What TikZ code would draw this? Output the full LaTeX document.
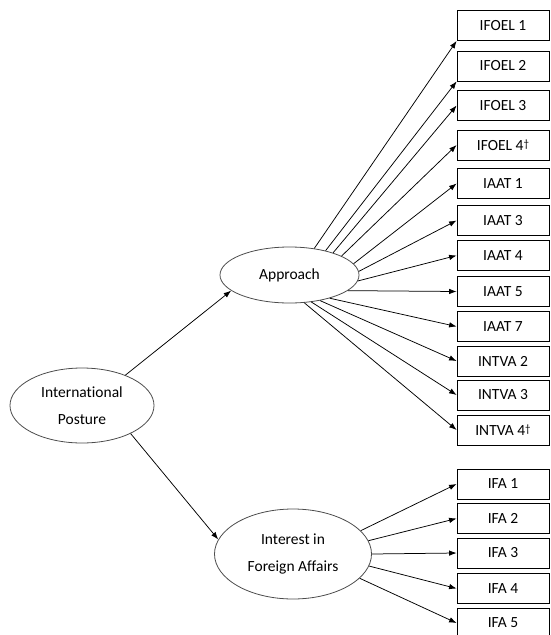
\documentclass[tikz,border=0pt]{standalone}
\usepackage{fontspec}
\setmainfont[Ligatures=NoCommon]{Carlito}
\usetikzlibrary{arrows.meta,shapes.geometric}

\begin{document}
\begin{tikzpicture}[x=1pt, y=-1pt,
  font=\fontsize{15.5}{27}\selectfont,
  indicator/.style={draw, line width=0.8pt, minimum width=92pt, minimum height=30pt, inner sep=0pt},
  factor/.style={draw=black!70, line width=0.8pt, ellipse, inner sep=0pt, align=center},
  load/.style={-{Latex[length=7.5pt,width=5.5pt]}, line width=0.75pt}]

% Page size of the figure
\useasboundingbox (0,0) rectangle (550,635);

% Column of the observed items
\def\bx{503}
% Dagger mark of dropped items
\def\mk{\raisebox{0.35ex}{\fontsize{11}{11}\selectfont †}}

% Items of the approach factor
\node[indicator] (ifoel1) at (\bx,25.5) {IFOEL 1};
\node[indicator] (ifoel2) at (\bx,66) {IFOEL 2};
\node[indicator] (ifoel3) at (\bx,105.5) {IFOEL 3};
\node[indicator] (ifoel4) at (\bx,145) {IFOEL 4\mk};
\node[indicator] (iaat1) at (\bx,183.5) {IAAT 1};
\node[indicator] (iaat3) at (\bx,220.5) {IAAT 3};
\node[indicator] (iaat4) at (\bx,255.5) {IAAT 4};
\node[indicator] (iaat5) at (\bx,291.5) {IAAT 5};
\node[indicator] (iaat7) at (\bx,326.5) {IAAT 7};
\node[indicator] (intva2) at (\bx,361) {INTVA 2};
\node[indicator] (intva3) at (\bx,395) {INTVA 3};
\node[indicator] (intva4) at (\bx,430) {INTVA 4\mk};

% Items of the interest factor
\node[indicator] (ifa1) at (\bx,484) {IFA 1};
\node[indicator] (ifa2) at (\bx,518.5) {IFA 2};
\node[indicator] (ifa3) at (\bx,553) {IFA 3};
\node[indicator] (ifa4) at (\bx,588.5) {IFA 4};
\node[indicator] (ifa5) at (\bx,623) {IFA 5};

% Latent factors
\node[factor, minimum width=144pt, minimum height=75pt] (posture) at (82,405.5) {International\\Posture};
\node[factor, minimum width=139pt, minimum height=56pt] (approach) at (289.5,275) {Approach};
\node[factor, minimum width=157pt, minimum height=90pt] (interest) at (293,554) {Interest in\\Foreign Affairs};

% Second order paths
\draw[load] (posture.35) -- (approach.195);
\draw[load] (posture.-30) -- (interest.169);

% Loadings on approach
\draw[load] (approach.47) -- (ifoel1.south west);
\draw[load] (approach.34) -- (ifoel2.south west);
\draw[load] (approach.27) -- (ifoel3.west);
\draw[load] (approach.20) -- (ifoel4.west);
\draw[load] (approach.10) -- (iaat1.west);
\draw[load] (approach.3) -- (iaat3.west);
\draw[load] (approach.-5) -- (iaat4.west);
\draw[load] (approach.-15) -- (iaat5.west);
\draw[load] (approach.-30) -- (iaat7.west);
\draw[load] (approach.-40) -- (intva2.west);
\draw[load] (approach.-51) -- (intva3.west);
\draw[load] (approach.-62) -- (intva4.west);

% Loadings on interest
\draw[load] (interest.19) -- (ifa1.west);
\draw[load] (interest.10) -- (ifa2.west);
\draw[load] (interest.0) -- (ifa3.west);
\draw[load] (interest.-9) -- (ifa4.west);
\draw[load] (interest.-20) -- (ifa5.west);
\end{tikzpicture}
\end{document}
